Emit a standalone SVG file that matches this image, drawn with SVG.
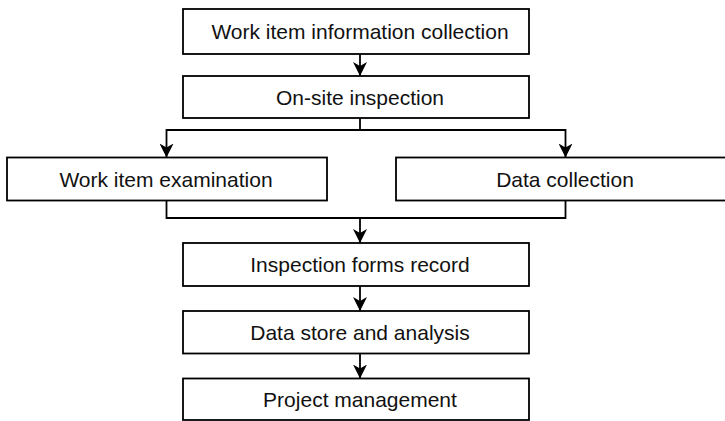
<svg xmlns="http://www.w3.org/2000/svg" width="725" height="421" viewBox="0 0 725 421">
<style>
.box{fill:#fff;stroke:#000;stroke-width:1.8}
.lbl{font-family:"Liberation Sans",Arial,sans-serif;font-size:21px;fill:#111;text-anchor:middle}
.con{fill:none;stroke:#000;stroke-width:1.8}
</style>
<defs>
<marker id="ah" viewBox="0 0 14 14" refX="14" refY="7" markerWidth="14" markerHeight="14" markerUnits="userSpaceOnUse" orient="auto">
<path d="M0,0 L14,7 L0,14 L4,7 Z" fill="#000"/>
</marker>
</defs>
<rect width="725" height="421" fill="#fff"/>
<g id="connectors">
<path class="con" d="M360,54 V76" marker-end="url(#ah)"/>
<path class="con" d="M360,118 V130 H166.5 V157.5" marker-end="url(#ah)"/>
<path class="con" d="M360,130 H565.5 V157.5" marker-end="url(#ah)"/>
<path class="con" d="M166.5,200.5 V218 H565.5 V200.5"/>
<path class="con" d="M360,218 V243" marker-end="url(#ah)"/>
<path class="con" d="M360,286 V311" marker-end="url(#ah)"/>
<path class="con" d="M360,353.5 V378.5" marker-end="url(#ah)"/>
</g>
<g id="n1"><rect class="box" x="183" y="9" width="346" height="45"/><text class="lbl" x="360" y="39">Work item information collection</text></g>
<g id="n2"><rect class="box" x="183" y="76" width="346" height="42"/><text class="lbl" x="360" y="104.5">On-site inspection</text></g>
<g id="n3"><rect class="box" x="7" y="157.5" width="320" height="43"/><text class="lbl" x="166" y="186.5">Work item examination</text></g>
<g id="n4"><rect class="box" x="396" y="157.5" width="345" height="43"/><text class="lbl" x="565" y="186.5">Data collection</text></g>
<g id="n5"><rect class="box" x="183" y="243" width="346" height="43"/><text class="lbl" x="360" y="272">Inspection forms record</text></g>
<g id="n6"><rect class="box" x="183" y="311" width="346" height="42.5"/><text class="lbl" x="360" y="339.5">Data store and analysis</text></g>
<g id="n7"><rect class="box" x="183" y="378.5" width="346" height="41.5"/><text class="lbl" x="360" y="407">Project management</text></g>
</svg>
